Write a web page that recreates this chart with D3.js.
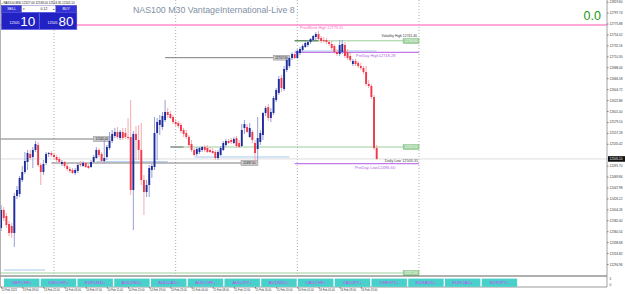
<!DOCTYPE html>
<html>
<head>
<meta charset="utf-8">
<script src="https://cdn.jsdelivr.net/npm/d3@7"></script>
<style>
  body { margin: 0; background: #fff; overflow: hidden; }
  svg { display: block; font-family: 'Liberation Sans', Arial, sans-serif; }
</style>
</head>
<body>
<script>
// NAS100 M30 bars, first bar 13 Feb 2023 14:00, [open, high, low, close]
const candles = [
  [12367,12413,12361,12403],[12403,12409,12381,12387],[12391,12397,12367,12373],[12375,12381,12351,12357],
  [12371,12377,12347,12357],[12357,12437,12329,12431],[12431,12451,12425,12443],[12435,12471,12429,12467],
  [12463,12491,12459,12479],[12479,12519,12475,12501],[12499,12523,12483,12517],[12515,12523,12503,12507],
  [12509,12529,12487,12523],[12523,12541,12519,12535],[12533,12539,12489,12493],[12493,12497,12453,12479],
  [12479,12503,12473,12495],[12497,12519,12493,12515],[12515,12519,12509,12517],[12517,12521,12509,12513],
  [12513,12517,12505,12509],[12509,12513,12499,12503],[12505,12509,12495,12499],[12495,12503,12491,12499],
  [12499,12501,12487,12491],[12491,12495,12481,12485],[12485,12489,12477,12481],[12483,12487,12475,12477],
  [12477,12487,12473,12483],[12481,12497,12477,12493],[12495,12501,12489,12493],[12491,12501,12489,12497],
  [12497,12499,12487,12489],[12491,12495,12485,12487],[12489,12503,12487,12499],[12499,12513,12497,12509],
  [12507,12529,12505,12523],[12523,12527,12509,12513],[12515,12519,12497,12501],[12501,12543,12497,12507],
  [12509,12533,12503,12529],[12527,12559,12523,12541],[12541,12563,12537,12555],[12551,12567,12547,12559],
  [12559,12569,12545,12549],[12547,12563,12543,12559],[12559,12567,12543,12547],[12557,12567,12545,12549],
  [12549,12587,12543,12547],[12549,12623,12433,12443],[12443,12561,12363,12555],[12555,12571,12503,12543],
  [12543,12573,12503,12523],[12523,12577,12453,12463],[12463,12473,12393,12439],[12439,12463,12429,12453],
  [12453,12493,12429,12487],[12483,12495,12467,12491],[12489,12589,12483,12557],[12557,12587,12503,12579],
  [12573,12593,12553,12583],[12569,12599,12563,12591],[12583,12623,12579,12599],[12599,12607,12587,12593],
  [12595,12601,12585,12587],[12589,12593,12575,12579],[12579,12585,12571,12575],[12577,12581,12567,12571],
  [12573,12577,12557,12561],[12563,12567,12549,12555],[12557,12563,12545,12549],[12549,12553,12527,12533],
  [12535,12543,12519,12523],[12523,12527,12511,12513],[12515,12529,12511,12525],[12519,12529,12515,12527],
  [12523,12531,12519,12529],[12529,12533,12519,12523],[12527,12533,12517,12519],[12523,12529,12517,12519],
  [12521,12527,12515,12517],[12519,12523,12503,12507],[12507,12523,12503,12519],[12513,12531,12511,12527],
  [12523,12541,12521,12537],[12533,12545,12529,12541],[12541,12545,12535,12537],[12543,12547,12535,12539],
  [12537,12549,12535,12545],[12547,12551,12527,12531],[12537,12543,12527,12529],[12531,12575,12529,12563],
  [12567,12583,12555,12575],[12569,12575,12557,12559],[12549,12577,12547,12567],[12559,12563,12537,12543],
  [12537,12543,12495.6,12517],[12525,12589,12503,12547],[12539,12563,12533,12557],[12553,12599,12543,12597],
  [12597,12611,12591,12607],[12609,12615,12581,12587],[12587,12607,12579,12599],[12597,12631,12593,12627],
  [12623,12647,12619,12643],[12637,12671,12633,12665],[12667,12673,12639,12647],[12645,12691,12641,12685],
  [12683,12707,12679,12703],[12691,12709,12687,12707],[12707,12718.28,12703,12715],[12715,12716,12705,12707],
  [12707,12725,12705,12721],[12717,12729,12713,12725],[12723,12735,12719,12731],[12729,12741,12727,12737],
  [12733,12743,12729,12739],[12739,12747,12735,12745],[12743,12753,12739,12751],[12749,12759,12743,12755],
  [12755,12761,12741,12745],[12747,12751,12737,12741],[12743,12749,12737,12741],[12743,12747,12735,12739],
  [12739,12743,12731,12735],[12735,12741,12723,12727],[12731,12735,12715,12719],[12719,12725,12711,12715],
  [12715,12743,12711,12733],[12719,12743,12715,12735],[12733,12739,12707,12711],[12719,12725,12703,12707],
  [12711,12717,12699,12703],[12695,12705,12691,12701],[12701,12705,12691,12695],[12697,12701,12687,12691],
  [12691,12697,12683,12687],[12687,12691,12675,12679],[12679,12691,12651,12655],[12655,12663,12647,12651],
  [12651,12655,12625,12629],[12629,12633,12523,12527],[12527,12533,12503.35,12505.10]
];

// time axis: one label every 8 bars
const timeLabels = ['13 Feb 2023','13 Feb 18:00','13 Feb 22:00','14 Feb 03:00','14 Feb 07:00','14 Feb 11:00',
  '14 Feb 15:00','14 Feb 19:00','14 Feb 23:00','15 Feb 04:00','15 Feb 08:00','15 Feb 12:00','15 Feb 16:00',
  '15 Feb 20:00','16 Feb 01:00','16 Feb 05:00','16 Feb 09:00','16 Feb 13:00'];
const dayStarts = [20, 66, 112, 158];   // bars at 01:00 of each day

const priceTicks = [12819.60,12797.74,12775.88,12754.02,12732.16,12710.30,12688.44,12666.58,12644.72,
  12622.86,12601.00,12579.14,12557.28,12535.42,12513.56,12491.70,12469.84,12447.98,12426.12,12404.26,
  12382.40,12360.54,12338.68,12316.82,12294.96];

const bid = 12505.10, ask = 12505.80;
const lotSize = '0.12';
const profitText = '0.0';

// named levels drawn by the indicator
const prevWeekHigh = 12773.15;
const volatilityHigh = 12741.40;
const preDayHigh = 12718.28;
const dailyLow = 12503.35;
const preDayLow = 12495.60;
// extra horizontal lines: price, first bar, last bar
const grayLines = [[12545.00, -1, 35], [12497.00, 19, 90.7], [12707.60, 62, 103]];
const greenLines = [[12529.00, 64, 152], [12277.00, -1, 152]];
const blueLines = [[12499.60, 36, 63], [12509.00, 73, 109], [12721.00, 111, 142], [12283.00, 1, 16.6]];

const symbols = ['GBPCHF+','USDCHF+','EURUSD+','AUDUSD+','AUDCAD+','AUDCHF+','AUDJPY+','AUDNZD+',
  'CADCHF+','CADJPY+','CHFJPY+','EURAUD+','EURCAD+','EURJPY+'];

const W = 625, H = 294;
const AXIS_X = 607, MAIN_BOTTOM = 276, SUB_BOTTOM = 287;

const svg = d3.select('body').append('svg').attr('width', W).attr('height', H);

const x = d3.scaleLinear().domain([0, 158]).range([1.1, 419]);
const y = d3.scaleLinear().domain([12823, 12271]).range([0, MAIN_BOTTOM]);
const fmt = d3.format('.2f');

const plot = svg.append('g');

// period separators
plot.selectAll('.sep').data(dayStarts).enter().append('line')
  .attr('x1', d => x(d)).attr('x2', d => x(d))
  .attr('y1', 0).attr('y2', MAIN_BOTTOM)
  .attr('stroke', '#9a9a9a').attr('stroke-width', 0.8).attr('stroke-dasharray', '1,2');

// bid line
plot.append('line').attr('x1', 0).attr('x2', AXIS_X).attr('y1', y(bid)).attr('y2', y(bid))
  .attr('stroke', '#d4d4d4').attr('stroke-width', 0.8);

function hline(price, b0, b1, color, width) {
  plot.append('line')
    .attr('x1', b0 < 0 ? 0 : x(b0)).attr('x2', b1 > 200 ? AXIS_X : x(b1))
    .attr('y1', y(price)).attr('y2', y(price))
    .attr('stroke', color).attr('stroke-width', width);
}
function priceBox(price, b0, b1, fill, stroke, color) {
  const x0 = x(b0), x1 = x(b1);
  plot.append('rect').attr('x', x0).attr('y', y(price) - 2.4).attr('width', x1 - x0).attr('height', 4.8)
    .attr('fill', fill).attr('stroke', stroke).attr('stroke-width', 0.5);
  plot.append('text').attr('x', (x0 + x1) / 2).attr('y', y(price) + 1.1)
    .attr('text-anchor', 'middle').attr('font-size', 3).attr('fill', color).text(fmt(price));
}

blueLines.forEach(d => hline(d[0], d[1], d[2], '#a8c8ee', 1));
grayLines.forEach(d => hline(d[0], d[1], d[2], '#6e6e6e', 0.9));
hline(greenLines[0][0], greenLines[0][1], greenLines[0][2], '#9ccf9c', 1);
hline(greenLines[0][0], 64, 69, '#707070', 1);
hline(greenLines[1][0], greenLines[1][1], greenLines[1][2], '#9ccf9c', 1);

// indicator levels
hline(prevWeekHigh, -1, 999, '#ff8ccc', 1.4);
hline(volatilityHigh, 111, 158, '#9ccf9c', 1);
hline(volatilityHigh, 111, 120, '#3d6e3d', 1);
hline(preDayHigh, 111, 158, '#c27ae8', 1.3);
hline(preDayLow, 111, 158, '#c27ae8', 1.3);

plot.append('text').attr('x', 300).attr('y', y(prevWeekHigh) + 4)
  .attr('font-size', 3.8).attr('fill', '#ff5fbf').text('PrevWeek High ' + fmt(prevWeekHigh));
plot.append('text').attr('x', 417).attr('y', y(volatilityHigh) - 3.4).attr('text-anchor', 'end')
  .attr('font-size', 3.4).attr('fill', '#333').text('Volatility High ' + fmt(volatilityHigh));
plot.append('text').attr('x', 356).attr('y', y(preDayHigh) + 4.2)
  .attr('font-size', 4).attr('fill', '#b160e6').text('PreDay High' + fmt(preDayHigh));
plot.append('text').attr('x', 418).attr('y', y(dailyLow) + 2.4).attr('text-anchor', 'end')
  .attr('font-size', 3.8).attr('fill', '#444').text('Daily Low ' + fmt(dailyLow));
plot.append('text').attr('x', 355).attr('y', y(preDayLow) + 4.8)
  .attr('font-size', 4.2).attr('fill', '#b160e6').text('PreDay Low' + fmt(preDayLow));

grayLines.forEach((d, i) => {
  const w = [6.2, 6.4, 6][i];
  priceBox(d[0], d[2], d[2] + w, '#c9c9c9', '#8a8a8a', '#222');
});
priceBox(volatilityHigh - 0.5, 152, 158, '#9fd49f', '#7cb87c', '#fff');
greenLines.forEach(d => priceBox(d[0], d[2], d[2] + 6, '#9fd49f', '#7cb87c', '#fff'));

// candles
const bars = plot.append('g');
bars.selectAll('.wick').data(candles).enter().append('line')
  .attr('x1', (d, i) => x(i)).attr('x2', (d, i) => x(i))
  .attr('y1', d => y(d[1])).attr('y2', d => y(d[2]))
  .attr('stroke', d => d[3] >= d[0] ? '#8a94d0' : '#f5a0a8').attr('stroke-width', 0.9);
bars.selectAll('.body').data(candles).enter().append('rect')
  .attr('x', (d, i) => x(i) - 0.95).attr('width', 1.9)
  .attr('y', d => y(Math.max(d[0], d[3])))
  .attr('height', d => Math.max(0.8, Math.abs(y(d[0]) - y(d[3]))))
  .attr('fill', d => d[3] >= d[0] ? '#1f2c9c' : '#f0394b');

// frames
svg.append('line').attr('x1', 0).attr('x2', AXIS_X).attr('y1', MAIN_BOTTOM).attr('y2', MAIN_BOTTOM)
  .attr('stroke', '#606060').attr('stroke-width', 1);
svg.append('line').attr('x1', 0).attr('x2', AXIS_X).attr('y1', SUB_BOTTOM).attr('y2', SUB_BOTTOM)
  .attr('stroke', '#808080').attr('stroke-width', 0.8);
svg.append('line').attr('x1', 0.5).attr('x2', 0.5).attr('y1', 0).attr('y2', SUB_BOTTOM)
  .attr('stroke', '#a0a0a0').attr('stroke-width', 0.8);

// price axis
const yAxis = d3.axisRight(y)
  .tickValues(priceTicks.filter(v => Math.abs(y(v) - y(bid)) > 5))
  .tickSize(1.5).tickPadding(1).tickFormat(fmt);
const yg = svg.append('g').attr('transform', `translate(${AXIS_X},0)`).call(yAxis);
yg.select('.domain').remove();
yg.selectAll('text').attr('font-size', 3.1).attr('fill', '#333').attr('font-family', 'Liberation Sans, Arial');
yg.selectAll('line').attr('stroke', '#777');
svg.append('line').attr('x1', AXIS_X).attr('x2', AXIS_X).attr('y1', 0).attr('y2', SUB_BOTTOM)
  .attr('stroke', '#8a8a8a').attr('stroke-width', 0.8);
svg.append('rect').attr('x', AXIS_X + 1).attr('y', y(bid) - 2.8).attr('width', W - AXIS_X - 1).attr('height', 5.6)
  .attr('fill', '#111');
svg.append('text').attr('x', AXIS_X + 2.5).attr('y', y(bid) + 1.2).attr('font-size', 3.1).attr('fill', '#fff')
  .text(fmt(bid));
[['5', 279.5], ['0', 285.5]].forEach(d => svg.append('text').attr('x', AXIS_X + 2.5).attr('y', d[1])
  .attr('font-size', 3.1).attr('fill', '#333').text(d[0]));

// time axis
const xAxis = d3.axisBottom(x)
  .tickValues(timeLabels.map((d, i) => i * 8))
  .tickSize(1.5).tickPadding(0.8)
  .tickFormat((d, i) => timeLabels[i]);
const xg = svg.append('g').attr('transform', `translate(0,${SUB_BOTTOM})`).call(xAxis);
xg.select('.domain').remove();
xg.selectAll('text').attr('font-size', 2.7).attr('fill', '#333').attr('text-anchor', 'start')
  .attr('font-family', 'Liberation Sans, Arial');
xg.selectAll('line').attr('stroke', '#777');

// symbol buttons
const btn = svg.append('g').selectAll('g').data(symbols).enter().append('g')
  .attr('transform', (d, i) => `translate(${4 + i * 36.75},278.6)`);
btn.append('rect').attr('width', 35.4).attr('height', 8.2).attr('fill', '#48d0cb');
btn.append('text').attr('x', 17.7).attr('y', 5.6).attr('text-anchor', 'middle')
  .attr('font-size', 4.3).attr('fill', '#d53cf2').text(d => d);

// title and profit
svg.append('text').attr('x', 133).attr('y', 13.2).attr('font-size', 8.8).attr('fill', '#8290a4')
  .text('NAS100 M30 VantageInternational-Live 8');
svg.append('text').attr('x', 601).attr('y', 19.6).attr('text-anchor', 'end')
  .attr('font-size', 12.5).attr('fill', '#169a16').text(profitText);

// one-click trading panel
const last = candles[candles.length - 1];
const panel = svg.append('g');
panel.append('text').attr('x', 1.5).attr('y', 3.6).attr('font-size', 3).attr('fill', '#222')
  .text('\u25AA NAS100,M30  ' + last.map(fmt).join(' '));
function blueBtn(x0, w, label) {
  panel.append('rect').attr('x', x0).attr('y', 5.6).attr('width', w).attr('height', 6.8)
    .attr('fill', '#3434d6').attr('stroke', '#1c1ca8').attr('stroke-width', 0.5);
  panel.append('text').attr('x', x0 + w / 2).attr('y', 10.2).attr('text-anchor', 'middle')
    .attr('font-size', 3.6).attr('fill', '#fff').text(label);
}
blueBtn(1.5, 20.2, 'SELL');
blueBtn(55.6, 21, 'BUY');
panel.append('rect').attr('x', 21.7).attr('y', 5.6).attr('width', 33.9).attr('height', 6.8)
  .attr('fill', '#fff').attr('stroke', '#7a7ac8').attr('stroke-width', 0.5);
panel.append('text').attr('x', 22.6).attr('y', 10).attr('font-size', 3.2).attr('fill', '#333').text('\u25BE');
panel.append('text').attr('x', 52.5).attr('y', 10).attr('font-size', 3.2).attr('fill', '#333').text('\u25B4');
panel.append('text').attr('x', 44).attr('y', 10.1).attr('text-anchor', 'middle')
  .attr('font-size', 3.5).attr('fill', '#222').text(lotSize);

function quoteBox(x0, w, price) {
  const s = fmt(price), whole = s.split('.')[0], frac = s.split('.')[1];
  panel.append('rect').attr('x', x0).attr('y', 12.6).attr('width', w).attr('height', 16.8)
    .attr('fill', '#2121c4').attr('stroke', '#4a4ae0').attr('stroke-width', 0.6);
  panel.append('text').attr('x', x0 + 8).attr('y', 23.6).attr('font-size', 3.6).attr('fill', '#fff').text(whole);
  panel.append('text').attr('x', x0 + 18.8).attr('y', 25.6).attr('font-size', 13.5).attr('fill', '#fff').text(frac);
}
quoteBox(1.5, 37.6, bid);
quoteBox(39.6, 37.2, ask);
</script>
</body>
</html>
